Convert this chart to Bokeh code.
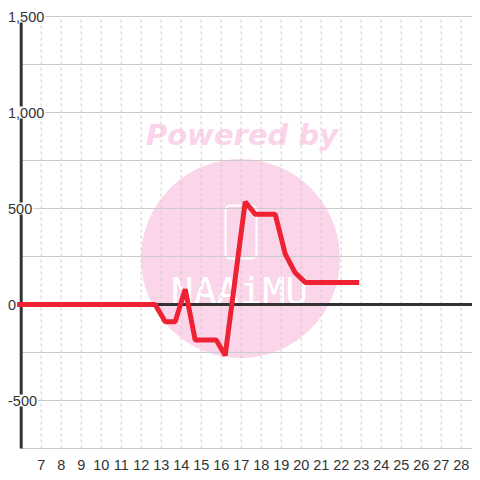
from bokeh.plotting import figure
from bokeh.models import FixedTicker, Range1d
from bokeh.core.properties import value
from bokeh.embed import file_html
from bokeh.resources import INLINE

# ---- data ----
x_vals = [5.5, 12.7, 13.2, 13.7, 14.2, 14.7, 15.75, 16.2, 17.2, 17.7, 18.7, 19.2, 19.7, 20.2, 22.9]
y_vals = [0, 0, -90, -90, 80, -185, -185, -265, 535, 470, 470, 264, 165, 115, 115]
x_ticks = list(range(7, 29))
y_label_values = [-500, 0, 500, 1000, 1500]
y_label_texts = ["-500", "0", "500", "1,000", "1,500"]
y_grid_values = [-750, -500, -250, 250, 500, 750, 1000, 1250, 1500]
x_axis_start = 6
y_axis_min, y_axis_max = -750, 1500

# ---- layout ----
W, H = 472, 472
BOTTOM = 22
frame_h = H - BOTTOM
px_x = 20.0
px_y = 96.0 / 500.0
x_start = x_axis_start - 20.7 / px_x
x_end = x_start + W / px_x
y_end = y_axis_max + 16 / px_y
y_start = y_end - frame_h / px_y


def to_data(px, py):
    return x_start + px / px_x, y_end - py / px_y


p = figure(width=W, height=H, x_range=Range1d(x_start, x_end), y_range=Range1d(y_start, y_end),
           output_backend="svg", toolbar_location=None, y_axis_location=None,
           min_border_left=0, min_border_right=0, min_border_top=0, min_border_bottom=BOTTOM)
p.outline_line_color = None
p.background_fill_color = "white"
p.border_fill_color = "white"
p.grid.visible = False

# ---- watermark ----
cx, cy = to_data(240, 258)
p.scatter([cx], [cy], size=199, marker="circle", fill_color="#fbd6eb", line_color=None)
rx, ry = to_data(240.5, 231.5)
p.rect([rx], [ry], width=31, height=53, width_units="screen", height_units="screen",
       fill_color=None, line_color="white", line_width=2, border_radius=5)
tx, ty = to_data(239, 290)
p.text([tx], [ty], text=["NAAiMU"], text_font=value("DejaVu Sans Mono"), text_font_size="38px",
       text_color="white", text_align="center", text_baseline="middle")
wx, wy = to_data(241.5, 134)
p.text([wx], [wy], text=["Powered by"], text_font=value("DejaVu Sans"), text_font_size="29px",
       text_font_style="bold italic", text_color="#fbd3ea", text_align="center", text_baseline="middle")

# ---- grid ----
p.segment(x0=x_ticks, y0=[y_axis_min] * len(x_ticks), x1=x_ticks, y1=[y_axis_max] * len(x_ticks),
          line_color="#cccccc", line_width=1, line_dash="3 3")
p.segment(x0=[x_axis_start] * len(y_grid_values), y0=y_grid_values,
          x1=[x_end] * len(y_grid_values), y1=y_grid_values, line_color="#cccccc", line_width=1)
# zero line and left axis
p.segment(x0=[x_axis_start], y0=[0], x1=[x_end], y1=[0], line_color="#333333", line_width=3)
p.segment(x0=[x_axis_start], y0=[y_axis_min], x1=[x_axis_start], y1=[y_axis_max],
          line_color="#333333", line_width=3)

# ---- series ----
p.line(x_vals, y_vals, line_color="#ee2233", line_width=5)

# ---- y labels ----
p.text(x=[x_start + 6.5 / px_x] * len(y_label_values), y=y_label_values, text=y_label_texts,
       text_font=value("Liberation Sans"), text_font_size="14.5px", text_color="#333333",
       text_align="left", text_baseline="middle", background_fill_color="white", padding=1)

# ---- x axis ----
ax = p.xaxis[0]
ax.ticker = FixedTicker(ticks=x_ticks)
ax.axis_line_color = None
ax.major_tick_line_color = None
ax.minor_tick_line_color = None
ax.major_label_standoff = 3
ax.major_label_text_font = "Liberation Sans"
ax.major_label_text_font_size = "14.5px"
ax.major_label_text_color = "#333333"

open("out.html", "w").write(file_html(p, INLINE))
